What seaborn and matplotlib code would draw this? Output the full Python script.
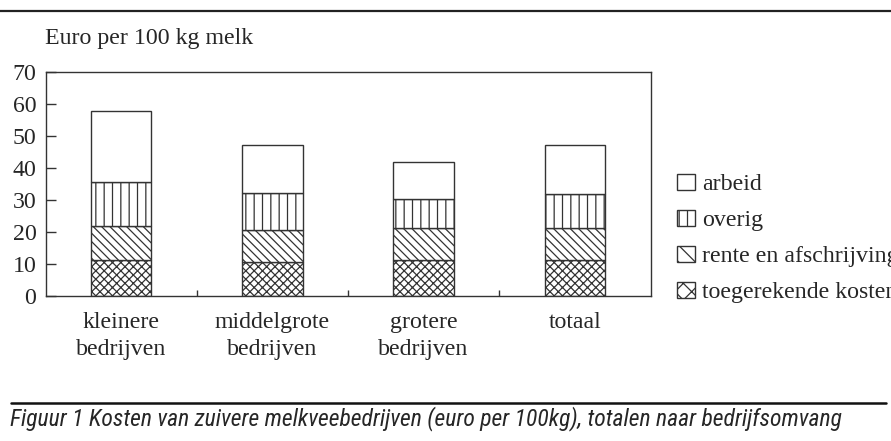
import numpy as np
import matplotlib
matplotlib.use("Agg")
import matplotlib.pyplot as plt
import seaborn as sns
from matplotlib.patches import Patch
from matplotlib.lines import Line2D
from matplotlib import font_manager

categories = ["kleinere\nbedrijven", "middelgrote\nbedrijven", "grotere\nbedrijven", "totaal"]
toegerekende = [11.1, 10.7, 11.2, 11.1]
rente = [10.8, 9.9, 10.1, 10.0]
overig = [13.8, 11.5, 9.0, 10.9]
arbeid = [22.2, 15.1, 11.6, 15.2]

series_labels = ["toegerekende kosten", "rente en afschrijving", "overig", "arbeid"]
series_values = [toegerekende, rente, overig, arbeid]
series_hatches = ["xxxx", "\\\\\\\\", "||", ""]
legend_hatches = ["xx", "\\\\", "||", ""]

ytick_values = [0, 10, 20, 30, 40, 50, 60, 70]
ylabel_text = "Euro per 100 kg melk"
caption_text = "Figuur 1 Kosten van zuivere melkveebedrijven (euro per 100kg), totalen naar bedrijfsomvang"

sns.set_style("white")
plt.rcParams["font.family"] = ["Liberation Serif", "DejaVu Serif"]
plt.rcParams["hatch.color"] = "#333333"
plt.rcParams["hatch.linewidth"] = 0.9

# pick a condensed sans font for the caption if one is installed
names = {f.name for f in font_manager.fontManager.ttflist}
cap_family = None
cap_size = 13.6
for cand in ["Liberation Sans Narrow", "Roboto Condensed", "Open Sans Condensed",
             "Noto Sans Condensed", "DejaVu Sans Condensed"]:
    if cand in names:
        cap_family = cand
        cap_size = 17.0
        break
if cap_family is None:
    cap_family = "Roboto" if "Roboto" in names else "DejaVu Sans"
    cap_size = 15.0 if cap_family == "Roboto" else 13.6

W, H = 891, 441
fig = plt.figure(figsize=(W / 100, H / 100), dpi=100)
fig.patch.set_facecolor("white")
ax = fig.add_axes([45.5 / W, 1 - 296 / H, (650.5 - 45.5) / W, (296 - 72) / H])

edge = "#333333"
fs = 17.2
bottom = np.zeros(len(categories))
for lab, vals, hat in zip(series_labels, series_values, series_hatches):
    vals = np.asarray(vals, dtype=float)
    sns.barplot(x=categories, y=vals, bottom=bottom, width=0.4, color="white",
                edgecolor=edge, linewidth=1.0, hatch=hat, ax=ax, saturation=1,
                errorbar=None)
    bottom = bottom + vals

ax.set_ylim(0, 70)
ax.set_xlim(-0.5, len(categories) - 0.5)
ax.set_yticks(ytick_values)
ax.set_yticklabels([str(v) for v in ytick_values], fontsize=fs)
ax.set_xticks(range(len(categories)))
ax.set_xticklabels(categories, fontsize=fs, linespacing=1.36)
ax.set_xticks(np.arange(0.5, len(categories) - 0.5, 1.0), minor=True)
ax.tick_params(axis="y", direction="in", length=7, width=1, color=edge, pad=6.5, left=True)
ax.tick_params(axis="x", which="major", length=0, pad=11.5)
ax.tick_params(axis="x", which="minor", direction="in", length=4, width=1, color=edge, bottom=True)
ax.set_xlabel("")
ax.set_ylabel("")
for s in ax.spines.values():
    s.set_visible(True)
    s.set_color(edge)
    s.set_linewidth(1.0)

fig.text(45 / W, 1 - 44 / H, ylabel_text, fontsize=fs, va="baseline", ha="left")

handles = [Patch(facecolor="white", edgecolor=edge, hatch=h, linewidth=1.0, label=l)
           for l, h in zip(series_labels, legend_hatches)]
leg = fig.legend(handles=handles[::-1], loc="center left",
                 bbox_to_anchor=(676.7 / W, 1 - 238.5 / H), frameon=False,
                 fontsize=fs, handlelength=0.75, handleheight=0.7,
                 handletextpad=0.3, labelspacing=0.6, borderpad=0, borderaxespad=0)

fig.add_artist(Line2D([0, 1], [1 - 10.7 / H, 1 - 10.7 / H], transform=fig.transFigure,
                      color="#222222", linewidth=1.6))
fig.add_artist(Line2D([11 / W, 886 / W], [1 - 402.5 / H, 1 - 402.5 / H], transform=fig.transFigure,
                      color="#111111", linewidth=1.8))
fig.text(10 / W, 1 - 425 / H, caption_text, fontsize=cap_size, style="italic",
         family=[cap_family, "DejaVu Sans"], fontstretch="condensed",
         va="baseline", ha="left")

fig.savefig("out.png", dpi=100, facecolor="white")
